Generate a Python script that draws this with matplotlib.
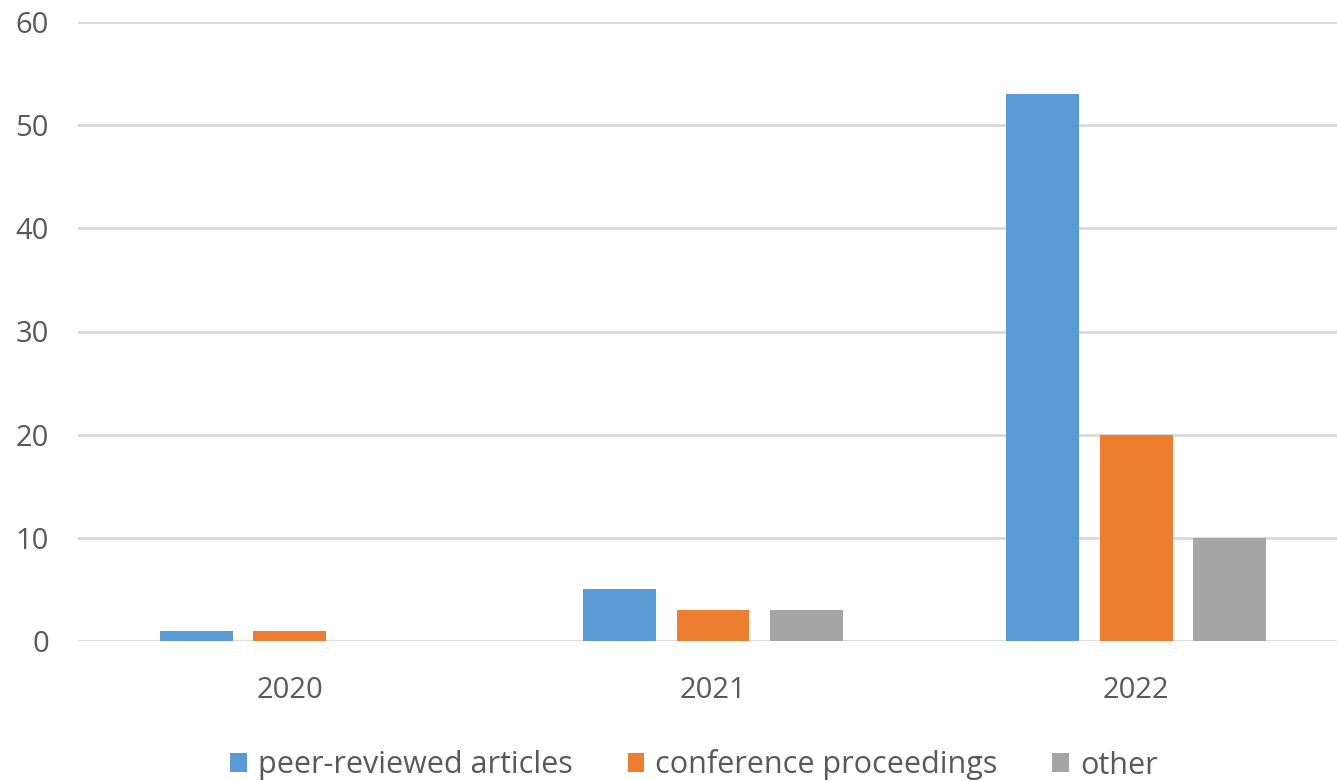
import matplotlib.pyplot as plt
import numpy as np

# data
years = ['2020', '2021', '2022']
peer_reviewed = [1, 5, 53]
conference = [1, 3, 20]
other = [0, 3, 10]
series_names = ['peer-reviewed articles', 'conference proceedings', 'other']
colors = ['#5B9BD5', '#ED7D31', '#A5A5A5']

plt.rcParams['font.family'] = ['Open Sans', 'DejaVu Sans']

fig = plt.figure(figsize=(13.37, 7.81), dpi=100)
# plot area runs a little past the right edge of the image, as in the reference
ax = fig.add_axes([78 / 1337, 140 / 781, 1270 / 1337, 619 / 781])

x = np.arange(len(years))
w = 0.172
step = 0.221
for i, (vals, name, c) in enumerate(zip([peer_reviewed, conference, other], series_names, colors)):
    ax.bar(x + (i - 1) * step, vals, width=w, color=c, label=name, zorder=3)

ax.set_xlim(-0.5, 2.5)
ax.set_ylim(0, 60)
ax.set_yticks(range(0, 61, 10))
ax.set_xticks(x)
ax.set_xticklabels(years)
ax.grid(axis='y', color='#D9D9D9', linewidth=2, zorder=0)
for s in ax.spines.values():
    s.set_visible(False)
ax.tick_params(length=0, labelsize=21, labelcolor='#595959')
ax.tick_params(axis='y', pad=21)
ax.tick_params(axis='x', pad=25)

fig.legend(loc='center', bbox_to_anchor=(0.519, 1 - 765 / 781), ncol=3, frameon=False,
           fontsize=22, handlelength=0.55, handleheight=0.55, handletextpad=0.35,
           columnspacing=1.8, labelcolor='#595959')

fig.savefig('out.png', dpi=100)
